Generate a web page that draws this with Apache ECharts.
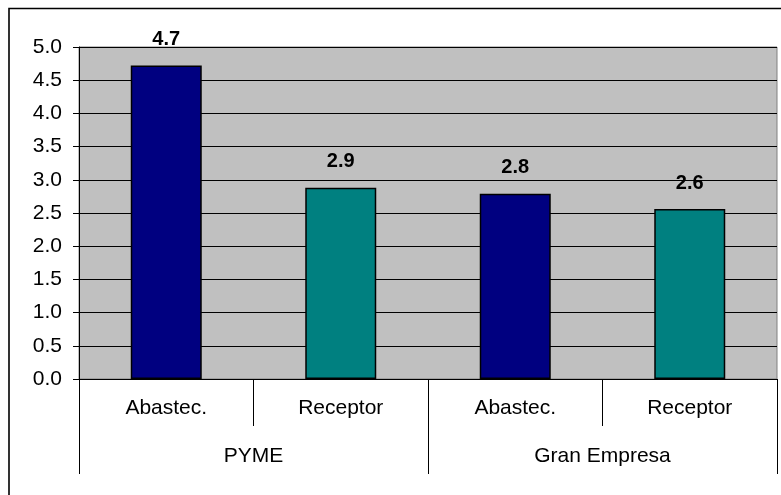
<!DOCTYPE html>
<html>
<head>
<meta charset="utf-8">
<script src="https://cdn.jsdelivr.net/npm/echarts@6/dist/echarts.min.js"></script>
<style>
  html, body { margin: 0; padding: 0; background: #ffffff; }
  #chart { width: 781px; height: 495px; }
</style>
</head>
<body>
<div id="chart"></div>
<script>
// Roles within each company size, and the size groups they belong to
var roles = ['Abastec.', 'Receptor', 'Abastec.', 'Receptor'];
var groups = ['PYME', 'Gran Empresa'];
var values = [4.72, 2.88, 2.79, 2.56];
var yTicks = [0, 0.5, 1, 1.5, 2, 2.5, 3, 3.5, 4, 4.5, 5];

var FONT = 'Arial, "Liberation Sans", sans-serif';
var roleColors = { 'Abastec.': '#000080', 'Receptor': '#008080' };

var barData = values.map(function (v, i) {
  return { value: v, itemStyle: { color: roleColors[roles[i]] } };
});

var chart = echarts.init(document.getElementById('chart'), null, { renderer: 'canvas' });

chart.setOption({
  backgroundColor: '#ffffff',
  animation: false,
  grid: {
    left: 79, right: 4, top: 47, bottom: 116,
    show: true,
    backgroundColor: '#C0C0C0',
    borderColor: '#808080',
    borderWidth: 1
  },
  xAxis: [
    {
      type: 'category',
      data: roles,
      position: 'bottom',
      axisLine: { show: true, lineStyle: { color: '#000', width: 1 } },
      axisTick: { show: true, alignWithLabel: false, interval: 0, length: 47, lineStyle: { color: '#000' } },
      axisLabel: { interval: 0, margin: 19, color: '#000', fontSize: 21, fontFamily: FONT },
      splitLine: { show: false }
    },
    {
      type: 'category',
      data: groups,
      position: 'bottom',
      axisLine: { show: false },
      axisTick: { show: true, interval: 0, length: 95, lineStyle: { color: '#000' } },
      axisLabel: { interval: 0, margin: 67, color: '#000', fontSize: 21, fontFamily: FONT },
      splitLine: { show: false }
    }
  ],
  yAxis: {
    type: 'value',
    min: yTicks[0],
    max: yTicks[yTicks.length - 1],
    interval: 0.5,
    axisLine: { show: true, lineStyle: { color: '#000', width: 1 } },
    axisTick: { show: true, inside: false, length: 6, lineStyle: { color: '#000' } },
    axisLabel: {
      margin: 17, color: '#000', fontSize: 21, fontFamily: FONT,
      formatter: function (v) { return v.toFixed(1); }
    },
    splitLine: { show: true, lineStyle: { color: '#000', width: 1 } }
  },
  series: [
    {
      type: 'bar',
      xAxisIndex: 0,
      data: barData,
      barWidth: 71,
      itemStyle: { borderColor: '#000', borderWidth: 1.5 },
      label: {
        show: true,
        position: 'top',
        distance: 16,
        color: '#000',
        fontSize: 20,
        fontWeight: 'bold',
        fontFamily: FONT,
        formatter: function (p) { return p.value.toFixed(1); }
      }
    }
  ],
  graphic: [
    {
      type: 'polyline',
      silent: true,
      shape: { points: [[9, 495], [9, 8.5], [781, 8.5]] },
      style: { stroke: '#000', lineWidth: 1.6, fill: null }
    }
  ]
});
</script>
</body>
</html>
